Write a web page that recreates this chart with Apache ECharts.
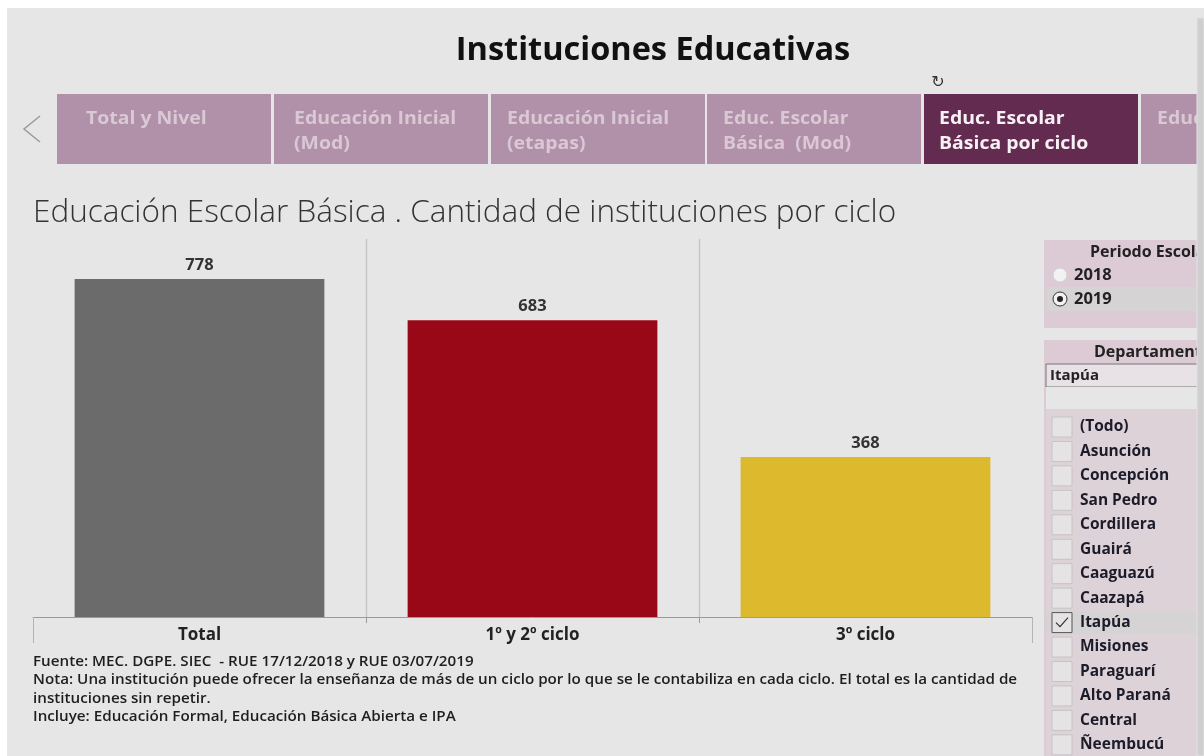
<!DOCTYPE html>
<html>
<head>
<meta charset="utf-8">
<title>Instituciones Educativas</title>
<script src="https://cdn.jsdelivr.net/npm/echarts@6/dist/echarts.min.js"></script>
<style>
  html, body { margin: 0; padding: 0; background: #fff; }
  #chart { width: 1204px; height: 756px; }
</style>
</head>
<body>
<div id="chart"></div>
<script>
// datos
const categorias = ['Total', '1º y 2º ciclo', '3º ciclo']
const instituciones = [778, 683, 368]
const coloresBarras = ['#6b6b6b', '#990816', '#ddb92e']

const pestanas = [
  ['Total y Nivel'],
  ['Educación Inicial', '(Mod)'],
  ['Educación Inicial', '(etapas)'],
  ['Educ. Escolar', 'Básica  (Mod)'],
  ['Educ. Escolar', 'Básica por ciclo'],
  ['Educ. Escolar']
]
const pestanaActiva = 4

const periodos = ['2018', '2019']
const periodoSel = '2019'

const departamentos = ['(Todo)', 'Asunción', 'Concepción', 'San Pedro', 'Cordillera', 'Guairá',
  'Caaguazú', 'Caazapá', 'Itapúa', 'Misiones', 'Paraguarí', 'Alto Paraná', 'Central', 'Ñeembucú']
const deptoSel = 'Itapúa'

const notas = [
  'Fuente: MEC. DGPE. SIEC  - RUE 17/12/2018 y RUE 03/07/2019',
  'Nota: Una institución puede ofrecer la enseñanza de más de un ciclo por lo que se le contabiliza en cada ciclo. El total es la cantidad de',
  'instituciones sin repetir.',
  'Incluye: Educación Formal, Educación Básica Abierta e IPA'
]

const FONT = '"Open Sans", "Noto Sans", sans-serif'
const chart = echarts.init(document.getElementById('chart'))

// fondo, pestañas y filtros (decoración del tablero)
function decoracion() {
  const g = []
  g.push({ type: 'rect', z: -10, silent: true, shape: { x: 7, y: 8, width: 1197, height: 748 }, style: { fill: '#e6e6e6' } })

  // flecha izquierda
  g.push({ type: 'polyline', z: 5, shape: { points: [[40, 116], [24, 129], [40, 142]] }, style: { stroke: '#9a9a9a', lineWidth: 1.5, fill: null } })

  // pestañas
  const x0 = 57, w = 214, paso = 216.8
  const sangria = [29, 20, 16, 16, 15, 16]
  pestanas.forEach((lineas, i) => {
    const x = Math.round(x0 + i * paso)
    const activa = i === pestanaActiva
    g.push({ type: 'rect', z: 5, shape: { x: x, y: 94, width: w, height: 70 }, style: { fill: activa ? '#632b50' : '#b190a9' } })
    lineas.forEach((t, j) => {
      g.push({
        type: 'text', z: 6, x: x + sangria[i], y: 119 + j * 25, scaleX: 1.08,
        style: { text: t, font: 'bold 18px ' + FONT, fill: activa ? '#f7f1f5' : '#dac8d4', verticalAlign: 'middle' }
      })
    })
  })
  g.push({ type: 'text', z: 6, x: 938, y: 83, style: { text: '↻', font: '16px "DejaVu Sans"', fill: '#333', align: 'center', verticalAlign: 'middle' } })

  // panel Periodo Escolar
  g.push({ type: 'rect', z: 5, shape: { x: 1044, y: 240, width: 160, height: 88 }, style: { fill: '#dccbd5' } })
  g.push({ type: 'text', z: 6, x: 1090, y: 252, style: { text: 'Periodo Escolar', font: 'bold 16px ' + FONT, fill: '#222', verticalAlign: 'middle' } })
  periodos.forEach((p, i) => {
    const y = 275 + i * 24
    const sel = p === periodoSel
    if (sel) g.push({ type: 'rect', z: 6, shape: { x: 1046, y: y - 12, width: 158, height: 24 }, style: { fill: '#d6d3d5' } })
    g.push({ type: 'circle', z: 7, shape: { cx: 1060, cy: y, r: 7 }, style: { fill: '#f2f2f2', stroke: sel ? '#333' : '#d0d0d0', lineWidth: 1 } })
    if (sel) g.push({ type: 'circle', z: 8, shape: { cx: 1060, cy: y, r: 3 }, style: { fill: '#222' } })
    g.push({ type: 'text', z: 7, x: 1074, y: y, style: { text: p, font: 'bold 16.5px ' + FONT, fill: '#222', verticalAlign: 'middle' } })
  })

  // panel Departamento
  g.push({ type: 'rect', z: 5, shape: { x: 1044, y: 340, width: 160, height: 416 }, style: { fill: '#dccbd5' } })
  g.push({ type: 'text', z: 6, x: 1094, y: 352, style: { text: 'Departamento', font: 'bold 16px ' + FONT, fill: '#222', verticalAlign: 'middle' } })
  g.push({ type: 'rect', z: 6, shape: { x: 1046, y: 364, width: 160, height: 23 }, style: { fill: '#e8e1e5', stroke: '#777', lineWidth: 1 } })
  g.push({ type: 'text', z: 7, x: 1050, y: 376, style: { text: deptoSel, font: 'bold 15px ' + FONT, fill: '#222', verticalAlign: 'middle' } })
  g.push({ type: 'rect', z: 6, shape: { x: 1046, y: 387, width: 160, height: 22 }, style: { fill: '#e6e6e6' } })
  g.push({ type: 'rect', z: 6, shape: { x: 1046, y: 409, width: 160, height: 347 }, style: { fill: '#ded2d9' } })
  departamentos.forEach((d, i) => {
    const y = 427 + i * 24.45
    const sel = d === deptoSel
    if (sel) g.push({ type: 'rect', z: 7, shape: { x: 1046, y: y - 12, width: 158, height: 24 }, style: { fill: '#d6d3d5' } })
    g.push({ type: 'rect', z: 8, shape: { x: 1052, y: y - 10, width: 20, height: 20 }, style: { fill: '#e6e3e5', stroke: sel ? '#555' : '#c4c4c4', lineWidth: 1 } })
    if (sel) g.push({ type: 'polyline', z: 9, shape: { points: [[1056, y], [1060, y + 4], [1068, y - 5]] }, style: { stroke: '#333', lineWidth: 1.2, fill: null } })
    g.push({ type: 'text', z: 8, x: 1080, y: y, style: { text: d, font: 'bold 15.5px ' + FONT, fill: '#1b1b2a', verticalAlign: 'middle' } })
  })

  // barra de desplazamiento
  g.push({ type: 'rect', z: 20, shape: { x: 1197, y: 18, width: 7, height: 738 }, style: { fill: '#cfcfcf', stroke: '#e2e2e2', lineWidth: 1 } })

  // notas al pie
  notas.forEach((t, i) => {
    g.push({ type: 'text', z: 6, x: 33, y: 662 + i * 18.4, scaleX: 1.085, style: { text: t, font: '600 14px ' + FONT, fill: '#1e1e1e', verticalAlign: 'middle' } })
  })
  return g
}

chart.setOption({
  backgroundColor: '#ffffff',
  animation: false,
  textStyle: { fontFamily: FONT },
  title: [
    { text: 'Instituciones Educativas', left: 648, top: 29, textAlign: 'center',
      textStyle: { fontSize: 32.5, fontWeight: 'bold', color: '#111', fontFamily: FONT } },
    { text: 'Educación Escolar Básica . Cantidad de instituciones por ciclo', left: 28, top: 192,
      textStyle: { fontSize: 31.5, fontWeight: 300, color: '#333', fontFamily: FONT } }
  ],
  grid: { left: 33, right: 172, top: 239, bottom: 139, containLabel: false },
  xAxis: {
    type: 'category',
    data: categorias,
    axisLine: { lineStyle: { color: '#9a9a9a', width: 1 } },
    axisTick: { show: true, length: 6, lineStyle: { color: '#9a9a9a' } },
    axisLabel: { margin: 10, fontSize: 17, fontWeight: 'bold', color: '#222', fontFamily: FONT }
  },
  yAxis: { type: 'value', min: 0, max: 870, show: false, splitLine: { show: false } },
  series: [{
    type: 'bar',
    barCategoryGap: '25%',
    data: instituciones.map((v, i) => ({ value: v, itemStyle: { color: coloresBarras[i] } })),
    label: { show: true, position: 'top', distance: 5, fontSize: 16.5, fontWeight: 'bold', color: '#333', fontFamily: FONT }
  }],
  graphic: decoracion()
})

// separadores de panel, calculados con la escala del eje
const c0 = chart.convertToPixel({ xAxisIndex: 0 }, 0)
const c1 = chart.convertToPixel({ xAxisIndex: 0 }, 1)
const banda = c1 - c0
const base = chart.convertToPixel({ yAxisIndex: 0 }, 0)
const tope = chart.convertToPixel({ yAxisIndex: 0 }, 870)
const lineas = []
for (let k = 0; k <= categorias.length; k++) {
  const x = Math.round(c0 - banda / 2 + k * banda) + 0.5
  if (k === 0 || k === categorias.length) {
    lineas.push({ type: 'line', z: 4, shape: { x1: x, y1: base, x2: x, y2: base + 26 }, style: { stroke: '#b4b4b4', lineWidth: 1 } })
  } else {
    lineas.push({ type: 'line', z: 1, shape: { x1: x, y1: tope, x2: x, y2: base }, style: { stroke: '#c6c6c6', lineWidth: 1.5 } })
  }
}
chart.setOption({ graphic: decoracion().concat(lineas) }, { replaceMerge: ['graphic'] })
</script>
</body>
</html>
